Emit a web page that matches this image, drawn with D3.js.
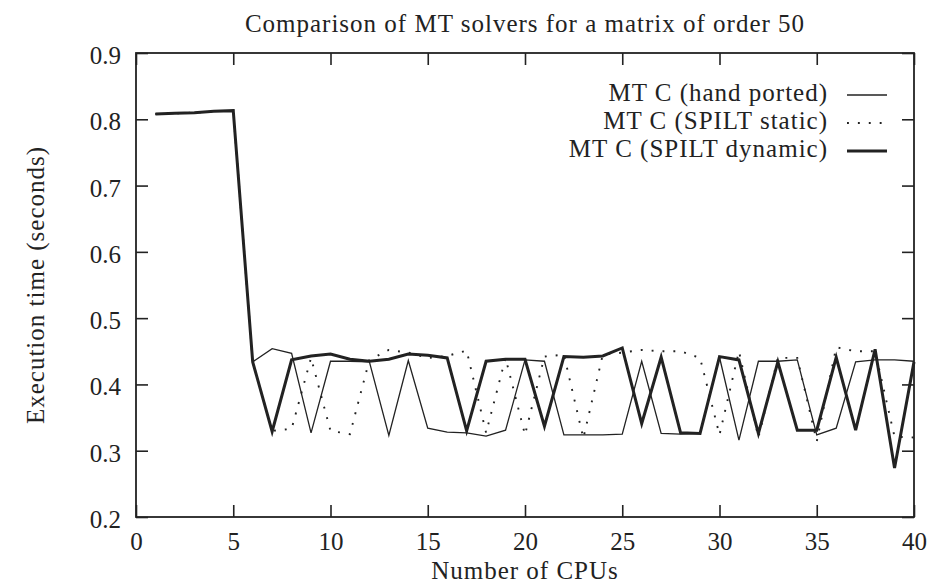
<!DOCTYPE html>
<html>
<head>
<meta charset="utf-8">
<script src="https://cdn.jsdelivr.net/npm/d3@7"></script>
<style>
  body { margin: 0; background: #fff; }
</style>
</head>
<body>
<div id="chart"></div>
<script>
// number of CPUs on the x axis
var cpus = [1, 2, 3, 4, 5, 6, 7, 8, 9, 10, 11, 12, 13, 14, 15, 16, 17, 18, 19, 20,
            21, 22, 23, 24, 25, 26, 27, 28, 29, 30, 31, 32, 33, 34, 35, 36, 37, 38, 39, 40];

// execution times (seconds)
var handPorted = [0.808, 0.809, 0.810, 0.812, 0.813, 0.434, 0.454, 0.447, 0.327, 0.435,
                  0.435, 0.434, 0.323, 0.436, 0.334, 0.328, 0.327, 0.322, 0.331, 0.437,
                  0.435, 0.324, 0.324, 0.324, 0.325, 0.435, 0.326, 0.325, 0.326, 0.441,
                  0.316, 0.435, 0.435, 0.437, 0.324, 0.334, 0.434, 0.437, 0.437, 0.435];
var spiltStatic = [0.808, 0.809, 0.810, 0.812, 0.813, 0.434, 0.330, 0.333, 0.440, 0.330,
                   0.325, 0.437, 0.452, 0.448, 0.440, 0.443, 0.451, 0.327, 0.440, 0.324,
                   0.442, 0.445, 0.319, 0.445, 0.448, 0.452, 0.450, 0.450, 0.440, 0.324,
                   0.450, 0.320, 0.440, 0.440, 0.314, 0.456, 0.450, 0.450, 0.321, 0.320];
var spiltDynamic = [0.808, 0.809, 0.810, 0.812, 0.813, 0.434, 0.329, 0.437, 0.443, 0.446,
                    0.438, 0.435, 0.438, 0.446, 0.444, 0.440, 0.330, 0.435, 0.438, 0.438,
                    0.337, 0.442, 0.441, 0.443, 0.455, 0.341, 0.441, 0.327, 0.326, 0.442,
                    0.437, 0.326, 0.434, 0.331, 0.331, 0.441, 0.331, 0.453, 0.274, 0.434];

var seriesNames = ["MT C (hand ported)", "MT C (SPILT static)", "MT C (SPILT dynamic)"];
var xTicks = [0, 5, 10, 15, 20, 25, 30, 35, 40];
var yTicks = [0.2, 0.3, 0.4, 0.5, 0.6, 0.7, 0.8, 0.9];

var chartTitle = "Comparison of MT solvers for a matrix of order 50";
var xLabel = "Number of CPUs";
var yLabel = "Execution time (seconds)";

var W = 930, H = 583;
var margin = {top: 53, right: 16, bottom: 66, left: 136};
var width = W - margin.left - margin.right,
    height = H - margin.top - margin.bottom;

var serif = "'Liberation Serif', 'DejaVu Serif', 'Times New Roman', serif";
var fontSize = 25;

var svg = d3.select("#chart").append("svg")
    .attr("width", W)
    .attr("height", H);

var g = svg.append("g")
    .attr("transform", "translate(" + margin.left + "," + margin.top + ")");

var x = d3.scaleLinear().domain([0, 40]).range([0, width]);
var y = d3.scaleLinear().domain([0.2, 0.9]).range([height, 0]);

// axes with ticks pointing inwards, mirrored on top and right
var xAxis = g.append("g")
    .attr("class", "axis")
    .attr("transform", "translate(0," + height + ")")
    .call(d3.axisBottom(x).tickValues(xTicks).tickSize(-12).tickPadding(15));
var yAxis = g.append("g")
    .attr("class", "axis")
    .call(d3.axisLeft(y).tickValues(yTicks).tickSize(-12).tickPadding(15)
        .tickFormat(d3.format(".1f")));
g.append("g")
    .attr("class", "axis")
    .call(d3.axisTop(x).tickValues(xTicks).tickSize(-12).tickFormat(""));
g.append("g")
    .attr("class", "axis")
    .attr("transform", "translate(" + width + ",0)")
    .call(d3.axisRight(y).tickValues(yTicks).tickSize(-12).tickFormat(""));

g.selectAll(".axis path").remove();
g.selectAll(".axis line").attr("stroke", "#222").attr("stroke-width", 1.6);
g.selectAll(".axis").attr("font-family", null).attr("font-size", null);
g.selectAll(".axis text")
    .style("font-family", serif)
    .style("font-size", fontSize + "px")
    .attr("fill", "#222");
yAxis.selectAll("text").attr("dy", "0.42em");

g.append("rect")
    .attr("width", width)
    .attr("height", height)
    .attr("fill", "none")
    .attr("stroke", "#222")
    .attr("stroke-width", 1.8);

// lines
var line = d3.line()
    .x(function (d) { return x(d[0]); })
    .y(function (d) { return y(d[1]); });

var styles = [
    {width: 1.3, dash: null},
    {width: 1.9, dash: "1.9,9"},
    {width: 3, dash: null}
];
var series = [handPorted, spiltStatic, spiltDynamic];

series.forEach(function (vals, i) {
    g.append("path")
        .datum(cpus.map(function (c, j) { return [c, vals[j]]; }))
        .attr("d", line)
        .attr("fill", "none")
        .attr("stroke", "#222")
        .attr("stroke-width", styles[i].width)
        .attr("stroke-linejoin", "miter")
        .attr("stroke-dasharray", styles[i].dash);
});

// legend
var legend = g.selectAll(".legend")
    .data(seriesNames)
    .enter().append("g")
    .attr("class", "legend")
    .attr("transform", function (d, i) {
        return "translate(0," + (42 + i * 28) + ")";
    });

legend.append("text")
    .attr("x", 692)
    .attr("y", 0)
    .attr("dy", "0.25em")
    .attr("text-anchor", "end")
    .attr("fill", "#222")
    .style("font-family", serif)
    .style("font-size", fontSize + "px")
    .style("letter-spacing", "1px")
    .text(function (d) { return d; });

legend.append("line")
    .attr("x1", 711)
    .attr("x2", 751)
    .attr("stroke", "#222")
    .attr("stroke-width", function (d, i) { return styles[i].width; })
    .attr("stroke-dasharray", function (d, i) { return styles[i].dash; });

// titles
function addText(sel) {
    return sel.append("text")
        .attr("text-anchor", "middle")
        .attr("fill", "#222")
        .style("font-family", serif)
        .style("font-size", fontSize + "px")
        .style("letter-spacing", "1px");
}

addText(svg)
    .attr("x", margin.left + width / 2)
    .attr("y", 32)
    .text(chartTitle);

addText(svg)
    .attr("x", margin.left + width / 2)
    .attr("y", 579)
    .text(xLabel);

addText(svg)
    .attr("transform", "translate(44," + (margin.top + height / 2) + ") rotate(-90)")
    .text(yLabel);
</script>
</body>
</html>
